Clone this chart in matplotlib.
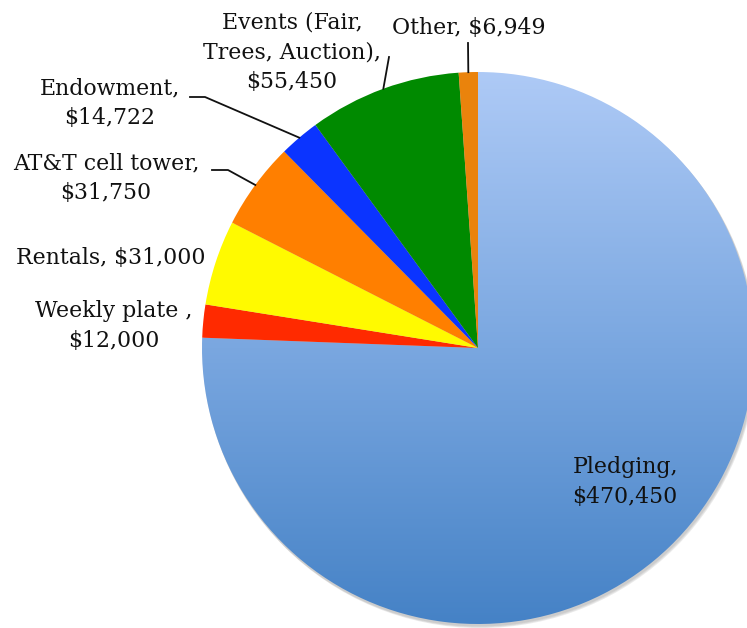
import numpy as np
import matplotlib
matplotlib.use("Agg")
import matplotlib.pyplot as plt
from matplotlib.colors import LinearSegmentedColormap
from matplotlib.patches import Circle

labels = ["Pledging", "Weekly plate ", "Rentals", "AT&T cell tower", "Endowment",
          "Events (Fair,\nTrees, Auction)", "Other"]
values = [470450, 12000, 31000, 31750, 14722, 55450, 6949]
colors = ["none", "#ff2a00", "#fffa00", "#ff7f00", "#0b34ff", "#008a00", "#ea830c"]

W, H = 747, 628
CX, CY, R = 478, 348, 276          # pie centre / radius in pixel coords (y down)
def P(x, y): return (x, H - y)     # pixel -> data

fig = plt.figure(figsize=(W/100, H/100), dpi=100)
ax = fig.add_axes([0, 0, 1, 1])

# soft shadow
for i, a in enumerate([0.10, 0.10, 0.12]):
    ax.add_patch(Circle(P(CX + 1 + i*0.6, CY + 2 + i*0.8), R + 0.5, fc="#555", ec="none", alpha=a, zorder=0))

wedges, _ = ax.pie(values, colors=colors, startangle=90, counterclock=False,
                   radius=R, center=P(CX, CY), wedgeprops=dict(linewidth=0))
for w in wedges: w.set_zorder(2)

# gradient fill for Pledging (light at top, darker at bottom)
cmap = LinearSegmentedColormap.from_list("pl", ["#aecaf6", "#7aa7e0", "#4582c6"])
grad = np.linspace(0, 1, 256).reshape(-1, 1)
x0, ybot = P(CX - R, CY + R); x1, ytop = P(CX + R, CY - R)
im = ax.imshow(grad, cmap=cmap, extent=[x0, x1, ybot, ytop], origin="upper", aspect="auto", zorder=1.5)
im.set_clip_path(wedges[0])

ax.set_xlim(0, W); ax.set_ylim(0, H); ax.set_aspect("equal"); ax.axis("off")

font = dict(family="DejaVu Serif", fontsize=15.8, color="#111", ha="center", va="center", linespacing=1.45, zorder=5)
def txt(i, x, y, sep=",\n"):
    ax.text(*P(x, y), f"{labels[i]}{sep}${values[i]:,}", **font)

txt(0, 625, 482)
txt(1, 114, 326)
txt(2, 111, 258, sep=", ")
txt(3, 106, 178)
txt(4, 110, 103)
txt(5, 292, 52)
txt(6, 469, 28, sep=", ")

# leader lines from wedge mid-angle on the rim
tot = sum(values)
ang = 90.0
mids = []
for v in values:
    span = 360.0 * v / tot
    mids.append(np.deg2rad(ang - span/2)); ang -= span
def rim(i): return (CX + R*np.cos(mids[i]), CY - R*np.sin(mids[i]))
leaders = {6: [(468, 43)], 5: [(389, 57)], 4: [(205, 97), (190, 97)], 3: [(228, 170), (212, 170)]}
for i, pts in leaders.items():
    seq = [rim(i)] + pts
    ax.plot([P(*p)[0] for p in seq], [P(*p)[1] for p in seq], color="#111", lw=1.3, zorder=4)

fig.savefig("out.png", dpi=100, facecolor="white")
